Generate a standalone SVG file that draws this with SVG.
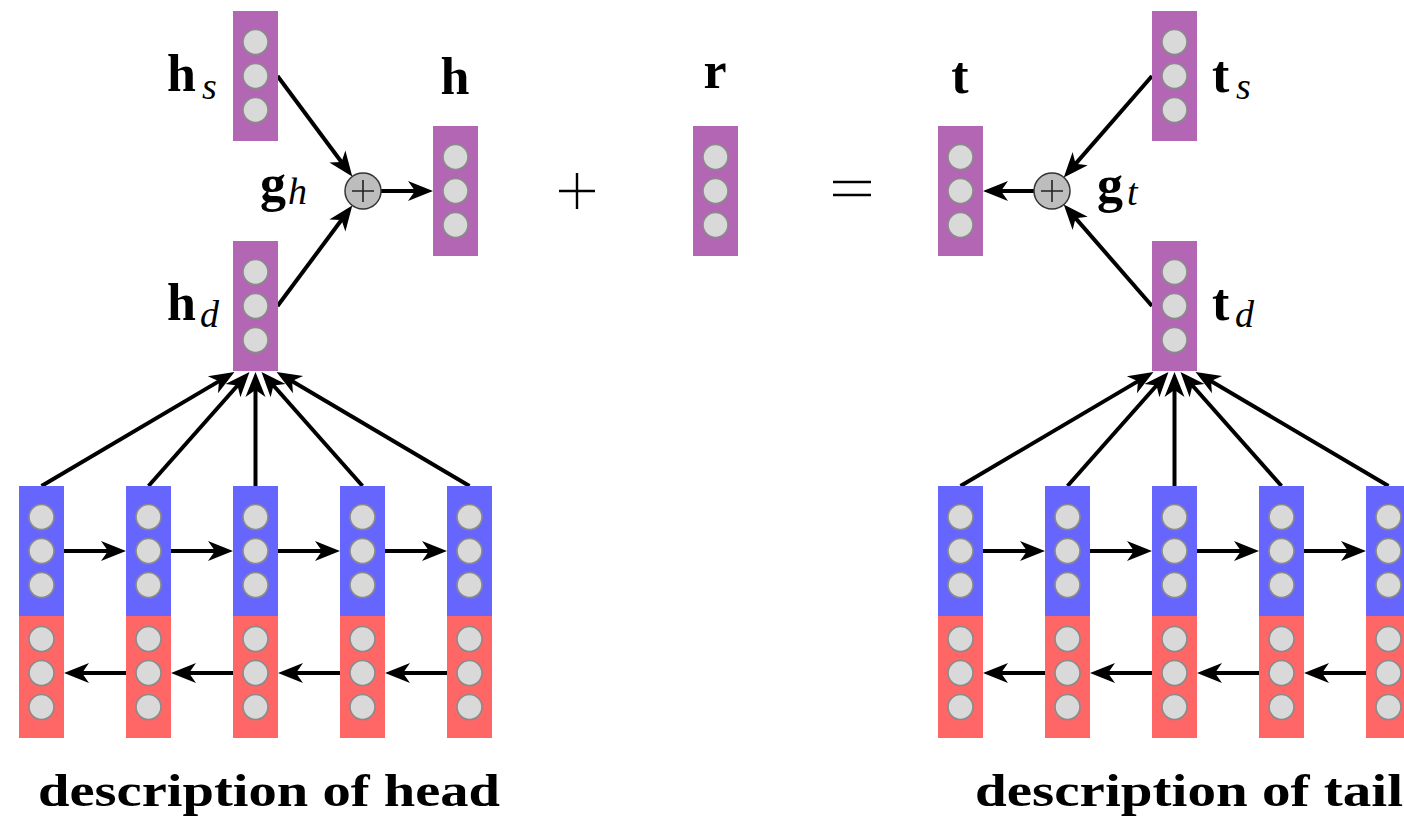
<svg xmlns="http://www.w3.org/2000/svg" width="1404" height="817" viewBox="0 0 1404 817">
<style>
.vec{fill:#b366b3}
.fwd{fill:#6666ff}
.bwd{fill:#ff6666}
.cell{fill:#d9d9d9;stroke:#8a8a8a;stroke-width:1.6}
.edge{stroke:#000;stroke-width:4;fill:none;marker-end:url(#stealth)}
.lbl{font-family:"Liberation Serif","Times New Roman",serif;font-weight:bold;font-size:52px;fill:#000}
.sub{font-style:italic;font-weight:normal;font-size:38px}
.cap{font-family:"Liberation Serif","Times New Roman",serif;font-weight:bold;font-size:46px;fill:#000}
.op{fill:#bdbdbd;stroke:#333;stroke-width:1.5}
.opmark{stroke:#222;stroke-width:1.6;fill:none}
.sym{stroke:#000;stroke-width:2.4;fill:none}
</style>
<defs>
  <!-- three hidden units of a vector, centred on the vector's middle -->
  <g id="cells">
    <circle class="cell" cx="0" cy="-34" r="12.5"/>
    <circle class="cell" cx="0" cy="0" r="12.5"/>
    <circle class="cell" cx="0" cy="34" r="12.5"/>
  </g>
  <marker id="stealth" markerUnits="userSpaceOnUse" markerWidth="30" markerHeight="30" refX="0" refY="0" orient="auto" overflow="visible">
    <path d="M6,0 L-19,-10 L-12,0 L-19,10 Z" fill="#000"/>
  </marker>
</defs>

<!-- connectors -->
<g id="connectors">
  <!-- head side: structure / description into gate -->
  <line class="edge" x1="277.5" y1="76" x2="348.7" y2="171.7"/>
  <line class="edge" x1="277.5" y1="306" x2="348.7" y2="210.3"/>
  <line class="edge" x1="381" y1="191" x2="427" y2="191"/>
  <!-- tail side -->
  <line class="edge" x1="1152" y1="76" x2="1067.7" y2="172.9"/>
  <line class="edge" x1="1152" y1="306" x2="1067.7" y2="209.1"/>
  <line class="edge" x1="1034" y1="191" x2="989" y2="191"/>
  <!-- head encoder outputs pooled into h_d -->
  <line class="edge" x1="41.5" y1="486" x2="229.3" y2="375.1"/>
  <line class="edge" x1="148.5" y1="486" x2="245.5" y2="376.5"/>
  <line class="edge" x1="255.5" y1="486" x2="255.5" y2="378"/>
  <line class="edge" x1="362.5" y1="486" x2="265.5" y2="376.5"/>
  <line class="edge" x1="469.5" y1="486" x2="281.7" y2="375.0"/>
  <!-- tail encoder outputs pooled into t_d -->
  <line class="edge" x1="960.5" y1="486" x2="1148.3" y2="375.1"/>
  <line class="edge" x1="1067.5" y1="486" x2="1164.5" y2="376.5"/>
  <line class="edge" x1="1174.5" y1="486" x2="1174.5" y2="378"/>
  <line class="edge" x1="1281.5" y1="486" x2="1184.5" y2="376.5"/>
  <line class="edge" x1="1388.5" y1="486" x2="1200.7" y2="375.0"/>
  <!-- head forward / backward recurrences -->
  <line class="edge" x1="64" y1="551" x2="120" y2="551"/>
  <line class="edge" x1="171" y1="551" x2="227" y2="551"/>
  <line class="edge" x1="278" y1="551" x2="334" y2="551"/>
  <line class="edge" x1="385" y1="551" x2="441" y2="551"/>
  <line class="edge" x1="126" y1="673" x2="70" y2="673"/>
  <line class="edge" x1="233" y1="673" x2="177" y2="673"/>
  <line class="edge" x1="340" y1="673" x2="284" y2="673"/>
  <line class="edge" x1="447" y1="673" x2="391" y2="673"/>
  <!-- tail forward / backward recurrences -->
  <line class="edge" x1="983" y1="551" x2="1039" y2="551"/>
  <line class="edge" x1="1090" y1="551" x2="1146" y2="551"/>
  <line class="edge" x1="1197" y1="551" x2="1253" y2="551"/>
  <line class="edge" x1="1304" y1="551" x2="1360" y2="551"/>
  <line class="edge" x1="1045" y1="673" x2="989" y2="673"/>
  <line class="edge" x1="1152" y1="673" x2="1096" y2="673"/>
  <line class="edge" x1="1259" y1="673" x2="1203" y2="673"/>
  <line class="edge" x1="1366" y1="673" x2="1310" y2="673"/>
</g>

<!-- head embeddings -->
<g id="h_s">
  <rect class="vec" x="233" y="11" width="45" height="130"/>
  <use href="#cells" x="255.5" y="76"/>
  <text class="lbl" x="167" y="91">h<tspan class="sub" x="202" y="99">s</tspan></text>
</g>
<g id="h_d">
  <rect class="vec" x="233" y="241" width="45" height="130"/>
  <use href="#cells" x="255.5" y="306"/>
  <text class="lbl" x="167" y="320">h<tspan class="sub" x="200" y="327">d</tspan></text>
</g>
<g id="g_h">
  <circle class="op" cx="363" cy="191" r="18"/>
  <path class="opmark" d="M352,191 H374 M363,180 V202"/>
  <text class="lbl" x="260" y="201">g<tspan class="sub" x="288" y="204">h</tspan></text>
</g>
<g id="h">
  <rect class="vec" x="433" y="126" width="45" height="130"/>
  <use href="#cells" x="455.5" y="191"/>
  <text class="lbl" x="455" y="94" text-anchor="middle">h</text>
</g>

<!-- relation -->
<g id="plus">
  <path class="sym" d="M559,191 H595 M577,173 V209"/>
</g>
<g id="r">
  <rect class="vec" x="693" y="126" width="45" height="130"/>
  <use href="#cells" x="715.5" y="191"/>
  <text class="lbl" x="715" y="88" text-anchor="middle">r</text>
</g>
<g id="equals">
  <path class="sym" d="M833,182 H871 M833,195 H871"/>
</g>

<!-- tail embeddings -->
<g id="t">
  <rect class="vec" x="938" y="126" width="45" height="130"/>
  <use href="#cells" x="960.5" y="191"/>
  <text class="lbl" x="960" y="93" text-anchor="middle">t</text>
</g>
<g id="g_t">
  <circle class="op" cx="1052" cy="191" r="18"/>
  <path class="opmark" d="M1041,191 H1063 M1052,180 V202"/>
  <text class="lbl" x="1097" y="202">g<tspan class="sub" x="1127" y="205">t</tspan></text>
</g>
<g id="t_s">
  <rect class="vec" x="1152" y="11" width="45" height="130"/>
  <use href="#cells" x="1174.5" y="76"/>
  <text class="lbl" x="1212" y="92">t<tspan class="sub" x="1236" y="99">s</tspan></text>
</g>
<g id="t_d">
  <rect class="vec" x="1152" y="241" width="45" height="130"/>
  <use href="#cells" x="1174.5" y="306"/>
  <text class="lbl" x="1212" y="320">t<tspan class="sub" x="1235" y="327">d</tspan></text>
</g>

<!-- head description encoder -->
<g id="head_enc_1"><rect class="bwd" x="19" y="608" width="45" height="130"/><rect class="fwd" x="19" y="486" width="45" height="130"/><use href="#cells" x="41.5" y="551"/><use href="#cells" x="41.5" y="673"/></g>
<g id="head_enc_2"><rect class="bwd" x="126" y="608" width="45" height="130"/><rect class="fwd" x="126" y="486" width="45" height="130"/><use href="#cells" x="148.5" y="551"/><use href="#cells" x="148.5" y="673"/></g>
<g id="head_enc_3"><rect class="bwd" x="233" y="608" width="45" height="130"/><rect class="fwd" x="233" y="486" width="45" height="130"/><use href="#cells" x="255.5" y="551"/><use href="#cells" x="255.5" y="673"/></g>
<g id="head_enc_4"><rect class="bwd" x="340" y="608" width="45" height="130"/><rect class="fwd" x="340" y="486" width="45" height="130"/><use href="#cells" x="362.5" y="551"/><use href="#cells" x="362.5" y="673"/></g>
<g id="head_enc_5"><rect class="bwd" x="447" y="608" width="45" height="130"/><rect class="fwd" x="447" y="486" width="45" height="130"/><use href="#cells" x="469.5" y="551"/><use href="#cells" x="469.5" y="673"/></g>

<!-- tail description encoder -->
<g id="tail_enc_1"><rect class="bwd" x="938" y="608" width="45" height="130"/><rect class="fwd" x="938" y="486" width="45" height="130"/><use href="#cells" x="960.5" y="551"/><use href="#cells" x="960.5" y="673"/></g>
<g id="tail_enc_2"><rect class="bwd" x="1045" y="608" width="45" height="130"/><rect class="fwd" x="1045" y="486" width="45" height="130"/><use href="#cells" x="1067.5" y="551"/><use href="#cells" x="1067.5" y="673"/></g>
<g id="tail_enc_3"><rect class="bwd" x="1152" y="608" width="45" height="130"/><rect class="fwd" x="1152" y="486" width="45" height="130"/><use href="#cells" x="1174.5" y="551"/><use href="#cells" x="1174.5" y="673"/></g>
<g id="tail_enc_4"><rect class="bwd" x="1259" y="608" width="45" height="130"/><rect class="fwd" x="1259" y="486" width="45" height="130"/><use href="#cells" x="1281.5" y="551"/><use href="#cells" x="1281.5" y="673"/></g>
<g id="tail_enc_5"><rect class="bwd" x="1366" y="608" width="45" height="130"/><rect class="fwd" x="1366" y="486" width="45" height="130"/><use href="#cells" x="1388.5" y="551"/><use href="#cells" x="1388.5" y="673"/></g>

<!-- captions -->
<text class="cap" x="38" y="806" textLength="462" lengthAdjust="spacingAndGlyphs">description of head</text>
<text class="cap" x="975" y="806" textLength="428" lengthAdjust="spacingAndGlyphs">description of tail</text>
</svg>
